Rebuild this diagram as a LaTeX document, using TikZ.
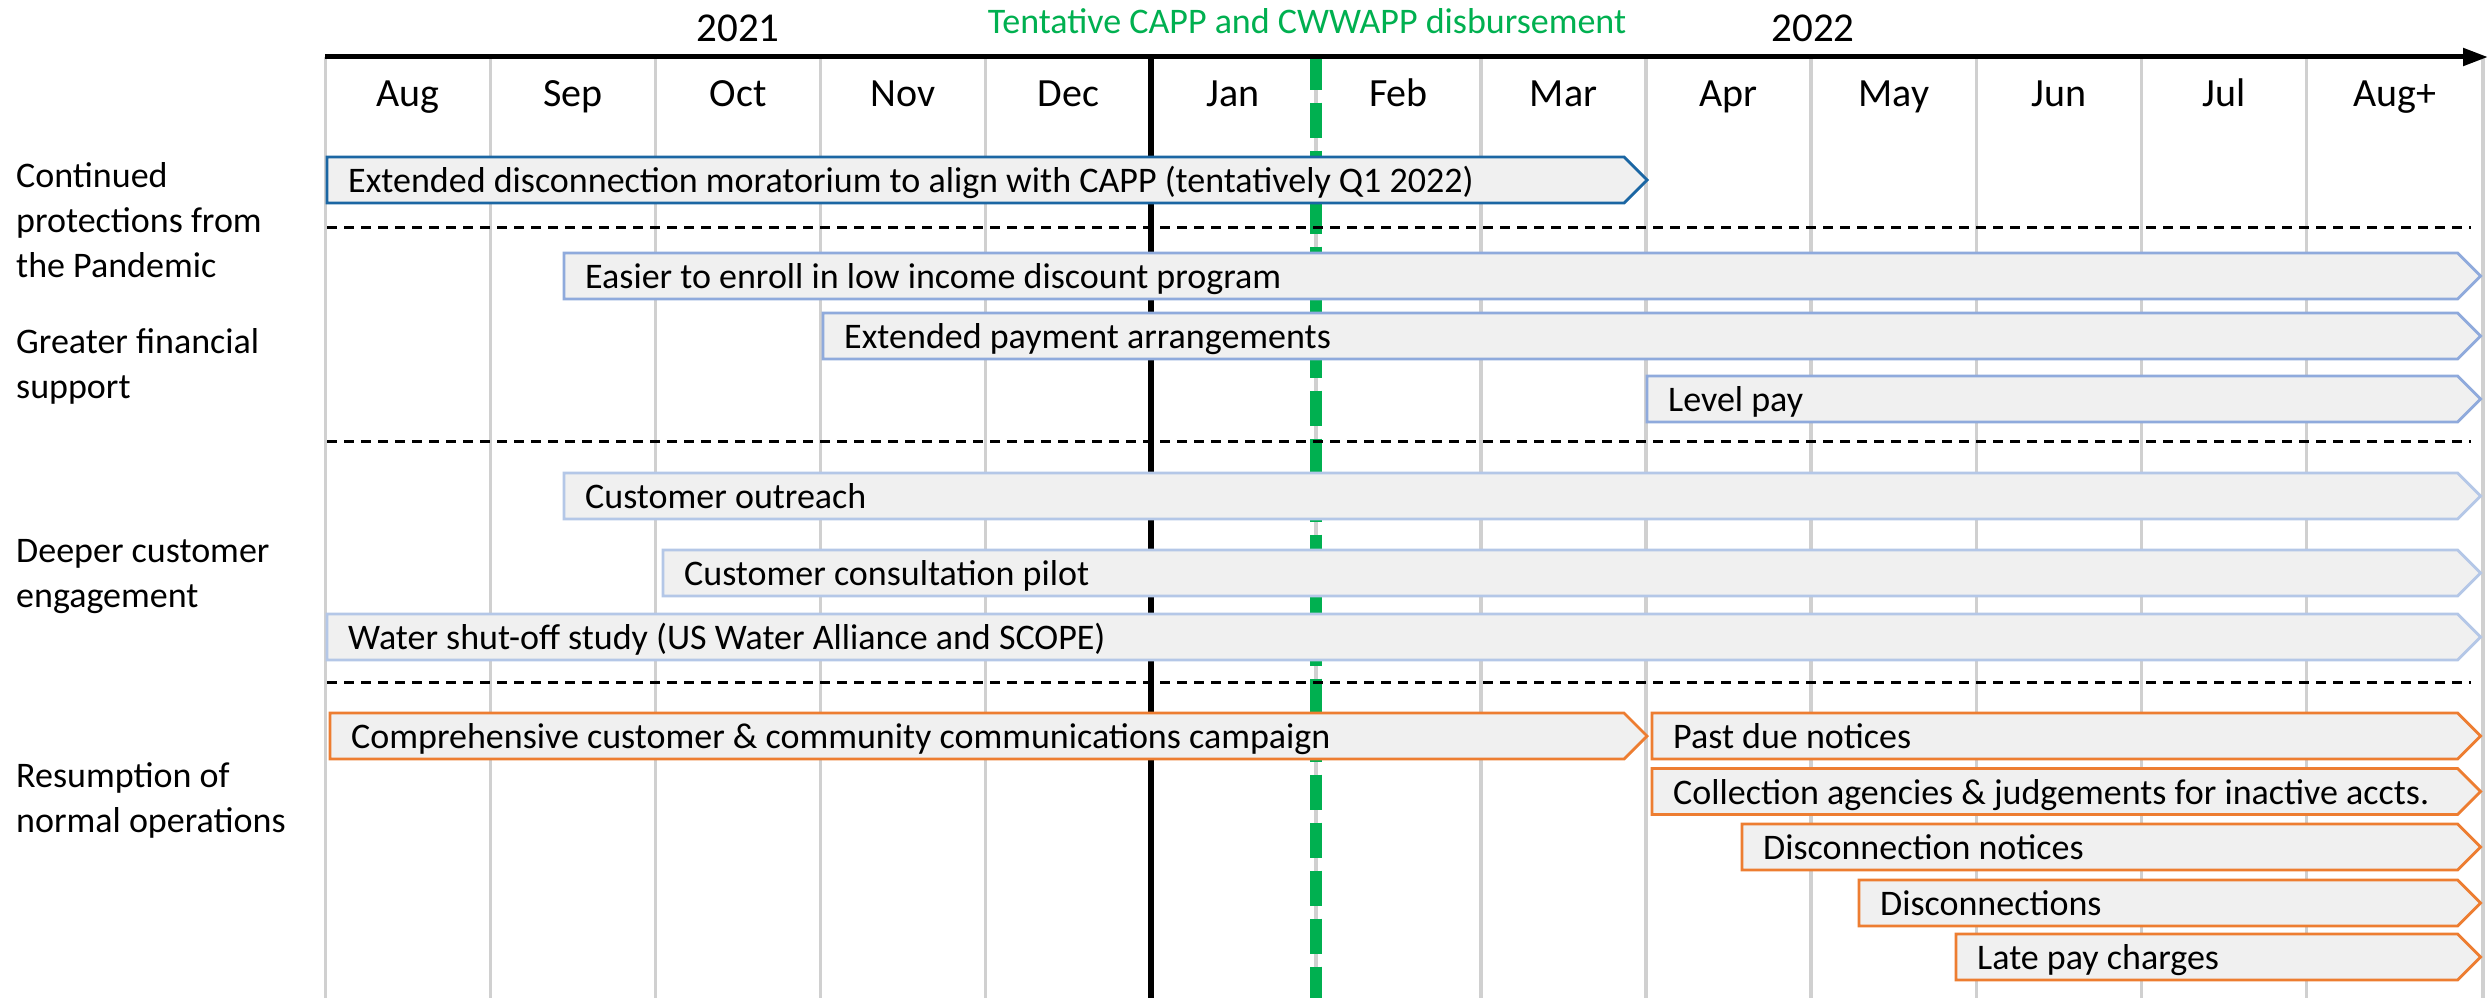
\documentclass[tikz,border=0pt]{standalone}
\usepackage{fontspec}
\setmainfont{Carlito}
\usetikzlibrary{arrows.meta}

\definecolor{gridgray}{HTML}{D0D0D0}
\definecolor{barfill}{HTML}{F0F0F0}
\definecolor{deepblue}{HTML}{1B66A3}
\definecolor{midblue}{HTML}{8FAADC}
\definecolor{paleblue}{HTML}{B4C7E7}
\definecolor{accentorange}{HTML}{ED7D31}
\definecolor{capgreen}{HTML}{00B050}

% one timeline bar: name, left x, centre y, tip x, outline colour, label
\newcommand\tlbar[6]{%
  \draw[#5, fill=barfill, line width=2.8, line join=miter]
    (#2,#3-23) -- (#4-23,#3-23) -- (#4,#3) -- (#4-23,#3+23) -- (#2,#3+23) -- cycle;
  \node[bartext, anchor=base west] (#1) at (#2+21,#3+12.5) {#6};
}

\begin{document}
\begin{tikzpicture}[x=1pt, y=-1pt,
  gridline/.style={gridgray, line width=3.5},
  sepline/.style={black, line width=2.6, dash pattern=on 10pt off 7pt},
  monthlabel/.style={inner sep=0, anchor=base, font=\fontsize{40}{48}\selectfont},
  yearlabel/.style={inner sep=0, anchor=base, font=\fontsize{41}{49}\selectfont},
  bartext/.style={inner sep=0, font=\fontsize{36}{45}\selectfont},
  grouplabel/.style={inner sep=0, anchor=base west, align=left, font=\fontsize{36}{45}\selectfont},
]
% canvas
\fill[white] (0,0) rectangle (2489,998);
\useasboundingbox (0,0) rectangle (2489,998);

% month grid
\foreach \gx in {325.3,490.4,655.5,820.6,985.7,1150.8,1315.9,1481,1646.1,1811.2,1976.3,2141.4,2306.5,2483}
  \draw[gridline] (\gx,57) -- (\gx,998);

% year boundary
\coordinate (yearTop) at (1150.8,57);
\coordinate (yearBot) at (1150.8,998);
\draw[black, line width=5.5] (yearTop) -- (yearBot);

% disbursement marker
\coordinate (capTop) at (1316,54.7);
\coordinate (capBot) at (1316,998);
\draw[capgreen, line width=12, dash pattern=on 35.5pt off 12.5pt] (capTop) -- (capBot);

% group separators
\foreach \sy in {227.5,441.7,682.3}
  \draw[sepline] (327,\sy) -- (2471,\sy);

% time axis
\coordinate (axisL) at (325,57);
\coordinate (axisR) at (2488,57);
\draw[black, line width=5, -{Triangle[length=25pt, width=17pt]}] (axisL) -- (axisR);

% headings
\node[yearlabel] (y2021) at (738,41.7) {2021};
\node[yearlabel] (y2022) at (1813,41.7) {2022};
\node[inner sep=0, anchor=base, text=capgreen, font=\fontsize{36}{45}\selectfont] (capnote) at (1307,33.3) {Tentative CAPP and CWWAPP disbursement};

\node[monthlabel] (mAug) at (407.9,106.7) {Aug};
\node[monthlabel] (mSep) at (573.0,106.7) {Sep};
\node[monthlabel] (mOct) at (738.1,106.7) {Oct};
\node[monthlabel] (mNov) at (903.2,106.7) {Nov};
\node[monthlabel] (mDec) at (1068.3,106.7) {Dec};
\node[monthlabel] (mJan) at (1233.4,106.7) {Jan};
\node[monthlabel] (mFeb) at (1398.5,106.7) {Feb};
\node[monthlabel] (mMar) at (1563.6,106.7) {Mar};
\node[monthlabel] (mApr) at (1728.7,106.7) {Apr};
\node[monthlabel] (mMay) at (1893.8,106.7) {May};
\node[monthlabel] (mJun) at (2058.9,106.7) {Jun};
\node[monthlabel] (mJul) at (2224.0,106.7) {Jul};
\node[monthlabel] (mAugp) at (2395,106.7) {Aug+};

% bars
\tlbar{b1}{327}{180}{1647}{deepblue}{Extended disconnection moratorium to align with CAPP (tentatively Q1 2022)}
\tlbar{b2}{564}{276}{2480.5}{midblue}{Easier to enroll in low income discount program}
\tlbar{b3}{823}{336}{2480.5}{midblue}{Extended payment arrangements}
\tlbar{b4}{1647}{399}{2480.5}{midblue}{Level pay}
\tlbar{b5}{564}{496}{2480.5}{paleblue}{Customer outreach}
\tlbar{b6}{663}{573}{2480.5}{paleblue}{Customer consultation pilot}
\tlbar{b7}{327}{637}{2480.5}{paleblue}{Water shut-off study (US Water Alliance and SCOPE)}
\tlbar{b8}{330}{736}{1647}{accentorange}{Comprehensive customer \& community communications campaign}
\tlbar{b9}{1652}{736}{2480.5}{accentorange}{Past due notices}
\tlbar{b10}{1652}{791.5}{2480.5}{accentorange}{Collection agencies \& judgements for inactive accts.}
\tlbar{b11}{1742}{847}{2480.5}{accentorange}{Disconnection notices}
\tlbar{b12}{1859}{903}{2480.5}{accentorange}{Disconnections}
\tlbar{b13}{1956}{957}{2480.5}{accentorange}{Late pay charges}

% group labels (base anchor sits on the last line)
\node[grouplabel] (g1) at (16,277) {Continued\\protections from\\the Pandemic};
\node[grouplabel] (g2) at (16,398) {Greater financial\\support};
\node[grouplabel] (g3) at (16,607) {Deeper customer\\engagement};
\node[grouplabel] (g4) at (16,832) {Resumption of\\normal operations};
\end{tikzpicture}
\end{document}
